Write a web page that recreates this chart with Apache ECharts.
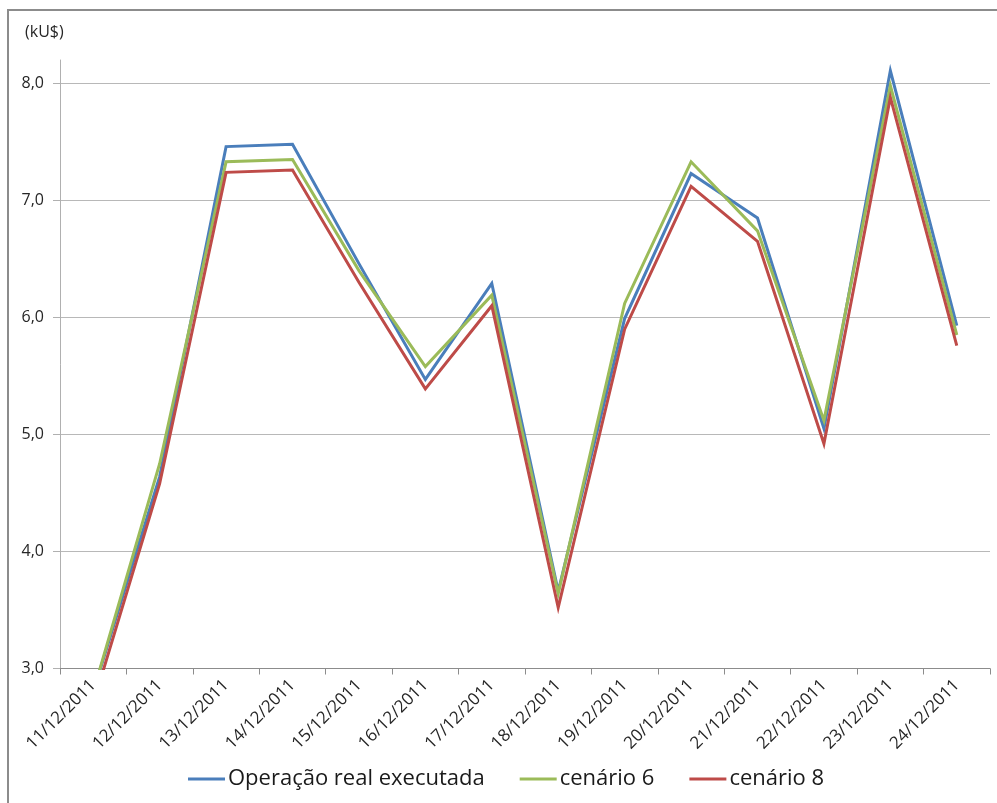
<!DOCTYPE html>
<html>
<head>
<meta charset="utf-8">
<script src="https://cdn.jsdelivr.net/npm/echarts@6/dist/echarts.min.js"></script>
<style>
  html, body { margin: 0; padding: 0; background: #ffffff; }
  #chart { width: 997px; height: 803px; }
</style>
</head>
<body>
<div id="chart"></div>
<script>
// Daily cost per scenario, December 2011 (kU$)
const dates = [
  '11/12/2011', '12/12/2011', '13/12/2011', '14/12/2011', '15/12/2011',
  '16/12/2011', '17/12/2011', '18/12/2011', '19/12/2011', '20/12/2011',
  '21/12/2011', '22/12/2011', '23/12/2011', '24/12/2011'
];
const operacaoReal = [2.80, 4.64, 7.46, 7.48, 6.46, 5.47, 6.29, 3.66, 5.99, 7.23, 6.85, 5.05, 8.11, 5.93];
const cenario6     = [2.80, 4.75, 7.33, 7.35, 6.40, 5.58, 6.19, 3.64, 6.12, 7.33, 6.74, 5.12, 7.98, 5.85];
const cenario8     = [2.70, 4.58, 7.24, 7.26, 6.30, 5.39, 6.10, 3.52, 5.90, 7.12, 6.65, 4.92, 7.88, 5.76];
const yTicks = [3, 4, 5, 6, 7, 8];

const seriesNames = ['Operação real executada', 'cenário 6', 'cenário 8'];
const seriesColors = ['#4A7EBB', '#9BBB59', '#BE4B48'];
const seriesData = [operacaoReal, cenario6, cenario8];

const FONT = '"Open Sans", "Noto Sans", sans-serif';

const chart = echarts.init(document.getElementById('chart'), null, { renderer: 'canvas' });

chart.setOption({
  backgroundColor: '#ffffff',
  animation: false,
  graphic: [{
    type: 'rect',
    silent: true,
    shape: { x: 8, y: 10, width: 1010, height: 820 },
    style: { fill: 'none', stroke: '#8c8c8c', lineWidth: 2 }
  }],
  title: {
    text: '(kU$)',
    left: 20,
    top: 19,
    textStyle: { fontFamily: FONT, fontSize: 16, fontWeight: 'normal', color: '#262626' }
  },
  legend: {
    data: seriesNames,
    left: 183,
    top: 763,
    icon: 'rect',
    itemWidth: 37,
    itemHeight: 3,
    itemGap: 35,
    textStyle: { fontFamily: FONT, fontSize: 22, color: '#1a1a1a', padding: [0, 0, 0, -2] }
  },
  grid: { left: 60, right: 7, top: 60, bottom: 134.5, containLabel: false },
  xAxis: {
    type: 'category',
    data: dates,
    boundaryGap: true,
    axisLine: { show: true, lineStyle: { color: '#8c8c8c', width: 1 } },
    axisTick: { show: true, interval: 0, length: 6, lineStyle: { color: '#8c8c8c' } },
    axisLabel: {
      interval: 0,
      rotate: 45,
      margin: 14,
      fontFamily: FONT,
      fontSize: 17,
      color: '#262626'
    },
    splitLine: { show: false }
  },
  yAxis: {
    type: 'value',
    min: 3,
    max: 8.2,
    interval: 1,
    axisLine: { show: true, lineStyle: { color: '#b0b0b0', width: 1 } },
    axisTick: { show: true, length: 7, customValues: yTicks, lineStyle: { color: '#b0b0b0' } },
    axisLabel: {
      customValues: yTicks,
      margin: 16,
      fontFamily: FONT,
      fontSize: 16,
      color: '#262626',
      formatter: v => v.toFixed(1).replace('.', ',')
    },
    splitLine: { show: true, showMinLine: false, lineStyle: { color: '#b8b8b8', width: 1 } }
  },
  series: seriesNames.map((name, i) => ({
    name: name,
    type: 'line',
    data: seriesData[i],
    symbol: 'none',
    clip: true,
    color: seriesColors[i],
    lineStyle: { color: seriesColors[i], width: 3, join: 'miter' }
  }))
});
</script>
</body>
</html>
